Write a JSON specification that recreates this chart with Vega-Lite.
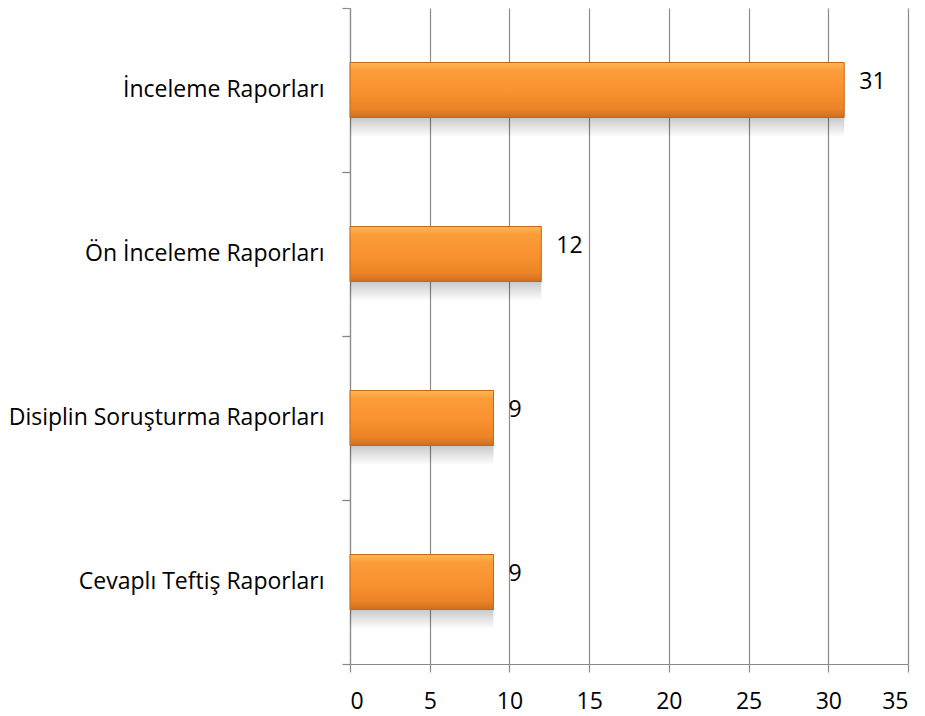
{
  "$schema": "https://vega.github.io/schema/vega-lite/v6.json",
  "autosize": {"type": "none"},
  "width": 558,
  "height": 656,
  "padding": {"left": 350, "top": 8, "right": 17, "bottom": 52},
  "background": "white",
  "config": {
    "view": {"stroke": null},
    "font": "Open Sans",
    "axis": {"labelFont": "Open Sans", "labelColor": "#000000", "labelLimit": 400, "domainColor": "#8a8a8a", "tickColor": "#8a8a8a", "gridColor": "#8a8a8a"}
  },
  "data": {
    "values": [
      {"rapor": "İnceleme Raporları", "sayi": 31},
      {"rapor": "Ön İnceleme Raporları", "sayi": 12},
      {"rapor": "Disiplin Soruşturma Raporları", "sayi": 9},
      {"rapor": "Cevaplı Teftiş Raporları", "sayi": 9}
    ]
  },
  "encoding": {
    "y": {"field": "rapor", "type": "nominal", "sort": null,
      "scale": {"paddingInner": 0, "paddingOuter": 0}},
    "x": {"field": "sayi", "type": "quantitative",
      "scale": {"domain": [0, 35], "nice": false}}
  },
  "layer": [
    {
      "mark": {"type": "bar", "size": 20, "yOffset": 37,
        "color": {"gradient": "linear", "x1": 0, "y1": 0, "x2": 0, "y2": 1,
          "stops": [{"offset": 0, "color": "rgba(0,0,0,0.22)"}, {"offset": 1, "color": "rgba(0,0,0,0)"}]}},
      "encoding": {
        "x": {"field": "sayi", "type": "quantitative",
          "axis": {"values": [0, 5, 10, 15, 20, 25, 30, 35], "grid": true, "gridWidth": 1.2, "tickSize": 8, "tickWidth": 1.2, "labelFontSize": 23, "labelPadding": 18, "domain": true, "domainWidth": 1.2, "title": null}},
        "y": {"field": "rapor", "type": "nominal", "sort": null,
          "axis": {"orient": "left", "bandPosition": 0, "ticks": true, "tickSize": 8, "tickWidth": 1.2, "labels": false, "domain": false, "title": null}}
      }
    },
    {
      "mark": {"type": "bar", "size": 55, "strokeWidth": 1, "stroke": "#c4661c",
        "color": {"gradient": "linear", "x1": 0, "y1": 0, "x2": 0, "y2": 1,
          "stops": [{"offset": 0, "color": "#ffb655"}, {"offset": 0.15, "color": "#fb9c3a"}, {"offset": 0.5, "color": "#f9922f"}, {"offset": 0.85, "color": "#ec8427"}, {"offset": 1, "color": "#cf6e1f"}]}},
      "encoding": {
        "y": {"field": "rapor", "type": "nominal", "sort": null,
          "axis": {"orient": "left", "ticks": false, "labels": true, "labelFontSize": 23, "labelPadding": 26, "domain": true, "domainWidth": 1.2, "title": null}}
      }
    },
    {
      "mark": {"type": "text", "align": "left", "baseline": "middle", "dx": 15, "dy": -8, "fontSize": 23, "font": "Open Sans", "color": "#000000"},
      "encoding": {
        "text": {"field": "sayi", "type": "quantitative"},
        "y": {"field": "rapor", "type": "nominal", "sort": null,
          "axis": {"orient": "left", "bandPosition": 1, "ticks": true, "tickSize": 8, "tickWidth": 1.2, "labels": false, "domain": false, "title": null}}
      }
    }
  ],
  "resolve": {"axis": {"y": "independent"}}
}
